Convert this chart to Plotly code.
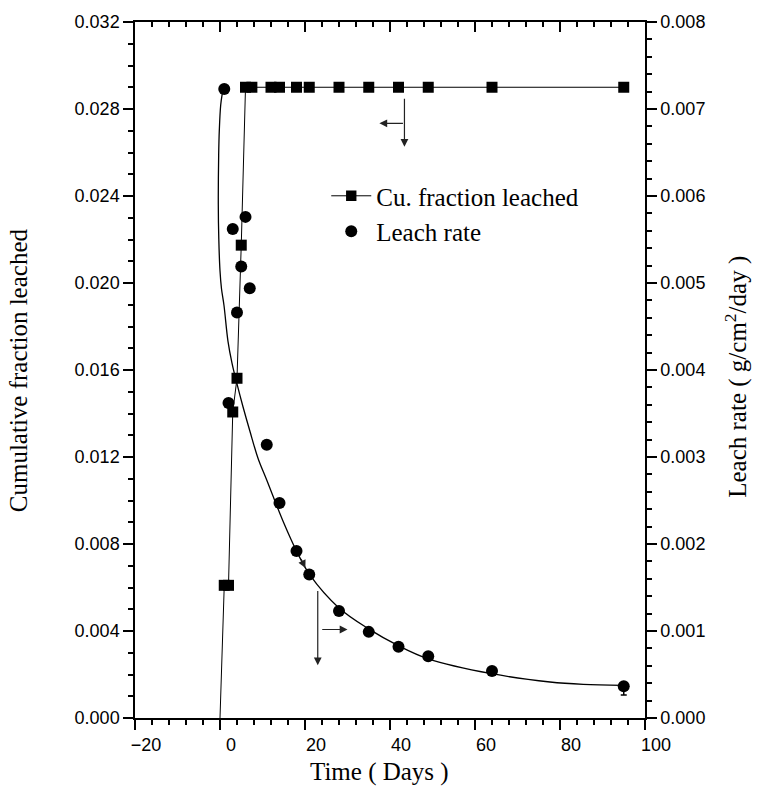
import plotly.graph_objects as go

# Cumulative fraction leached (left axis)
cu_days = [0, 1, 2, 3, 4, 5, 6, 7.5, 12, 14, 18, 21, 28, 35, 42, 49, 64, 95]
cu_frac = [0.0, 0.0061, 0.0061, 0.01407, 0.01562, 0.02174, 0.029, 0.029, 0.029, 0.029,
           0.029, 0.029, 0.029, 0.029, 0.029, 0.029, 0.029, 0.029]
cu_marker = [0] + [11] * (len(cu_days) - 1)

# Leach rate (right axis)
lr_days = [1, 2, 3, 4, 5, 6, 7, 11, 14, 18, 21, 28, 35, 42, 49, 64, 95]
lr_rate = [0.00723, 0.00362, 0.00562, 0.00466, 0.00519, 0.00576, 0.00494, 0.00314,
           0.00247, 0.00192, 0.00165, 0.00123, 0.00099, 0.00082, 0.00071, 0.00054, 0.000365]
lr_err_minus = [0] * 16 + [0.0001]

# Fitted curve
fit_days = [0.54, 0.16, -0.16, -0.31, -0.40, -0.28, 0.0, 0.35, 0.94, 1.88, 2.82, 4.0, 5.41,
            7.06, 8.94, 10.99, 14.89, 18.05, 21.18, 27.93, 35.06, 41.95, 49.01, 63.93,
            77.65, 85.48, 94.75]
fit_rate = [0.007179, 0.007043, 0.006758, 0.006473, 0.005903, 0.005504, 0.005140, 0.004934,
            0.004741, 0.004330, 0.004080, 0.003840, 0.003578, 0.003293, 0.002986, 0.002735,
            0.002256, 0.001915, 0.001641, 0.001268, 0.001022, 0.000832, 0.000680, 0.000509,
            0.000414, 0.000387, 0.000376]

SANS = "Liberation Sans, Arial, sans-serif"
SERIF = "Liberation Serif, Times New Roman, serif"

fig = go.Figure()
fig.add_trace(go.Scatter(
    x=cu_days, y=cu_frac, mode="lines+markers", name="Cu. fraction leached",
    line=dict(color="black", width=1),
    marker=dict(symbol="square", size=cu_marker, color="black", opacity=1,
                line=dict(width=0)),
    xaxis="x", yaxis="y"))
fig.add_trace(go.Scatter(
    x=lr_days, y=lr_rate, mode="markers", name="Leach rate",
    marker=dict(symbol="circle", size=12, color="black", opacity=1, line=dict(width=0)),
    error_y=dict(type="data", symmetric=False, array=[0] * len(lr_days),
                 arrayminus=lr_err_minus, color="black", thickness=1.5, width=3),
    xaxis="x2", yaxis="y2"))
fig.add_trace(go.Scatter(
    x=fit_days, y=fit_rate, mode="lines", showlegend=False,
    line=dict(color="black", width=1.3, shape="spline", smoothing=1.0),
    xaxis="x2", yaxis="y2"))

axline = dict(showline=True, linecolor="black", linewidth=1.5, showgrid=False,
              zeroline=False, tickcolor="black", tickwidth=1.5)

fig.update_layout(
    width=759, height=794,
    margin=dict(l=135, r=114, t=16, b=76),
    plot_bgcolor="white", paper_bgcolor="white",
    showlegend=True,
    legend=dict(x=0.375, y=0.783, xanchor="left", yanchor="top",
                font=dict(family=SERIF, size=25, color="black"),
                bgcolor="rgba(0,0,0,0)", itemwidth=40, tracegroupgap=0),
    xaxis=dict(range=[-20, 100], tick0=0, dtick=20, ticks="outside", ticklen=10,
               minor=dict(dtick=4, ticks="outside", ticklen=5, tickwidth=1.5, tickcolor="black"),
               tickfont=dict(family=SANS, size=18, color="black"), ticklabelshift=11,
               **axline),
    xaxis2=dict(range=[-20, 100], overlaying="x", side="top", anchor="y2", tick0=0, dtick=20,
                ticks="inside", ticklen=10, showticklabels=False,
                minor=dict(dtick=4, ticks="inside", ticklen=5, tickwidth=1.5, tickcolor="black"),
                **axline),
    yaxis=dict(range=[0, 0.032], dtick=0.004, tick0=0, ticks="outside", ticklen=10,
               tickformat=".3f",
               minor=dict(dtick=0.001, ticks="outside", ticklen=5, tickwidth=1.5, tickcolor="black"),
               tickfont=dict(family=SANS, size=18, color="black"), **axline),
    yaxis2=dict(range=[0, 0.008], dtick=0.001, tick0=0, overlaying="y", side="right",
                anchor="x2", ticks="outside", ticklen=10, tickformat=".3f",
                minor=dict(dtick=0.0002, ticks="outside", ticklen=5, tickwidth=1.5, tickcolor="black"),
                tickfont=dict(family=SANS, size=18, color="black"), **axline),
)

# Axis titles
fig.add_annotation(text="Time ( Days )", xref="paper", yref="paper", x=0.48, y=-0.078,
                   xanchor="center", yanchor="middle", showarrow=False,
                   font=dict(family=SERIF, size=25, color="black"))
fig.add_annotation(text="Cumulative fraction leached", xref="paper", yref="paper",
                   x=-0.229, y=0.5, textangle=-90, xanchor="center", yanchor="middle",
                   showarrow=False, font=dict(family=SERIF, size=25, color="black"))
fig.add_annotation(text="Leach rate ( g/cm<sup>2</sup>/day )", xref="paper", yref="paper",
                   x=1.18, y=0.49, textangle=-90, xanchor="center", yanchor="middle",
                   showarrow=False, font=dict(family=SERIF, size=25, color="black"))

# Arrows indicating axes
arrows = [
    (43.4, 0.02626, 43.4, 0.02854),
    (37.5, 0.02734, 43.4, 0.02734),
    (23.0, 0.00242, 23.0, 0.00591),
    (30.0, 0.00407, 23.7, 0.00407),
    (20.1, 0.00690, 18.9, 0.00738),
]
for hx, hy, tx, ty in arrows:
    fig.add_annotation(x=hx, y=hy, ax=tx, ay=ty, xref="x", yref="y", axref="x", ayref="y",
                       text="", showarrow=True, arrowhead=2, arrowsize=1.3, arrowwidth=1.2,
                       arrowcolor="#222")

fig.write_html("out.html")
